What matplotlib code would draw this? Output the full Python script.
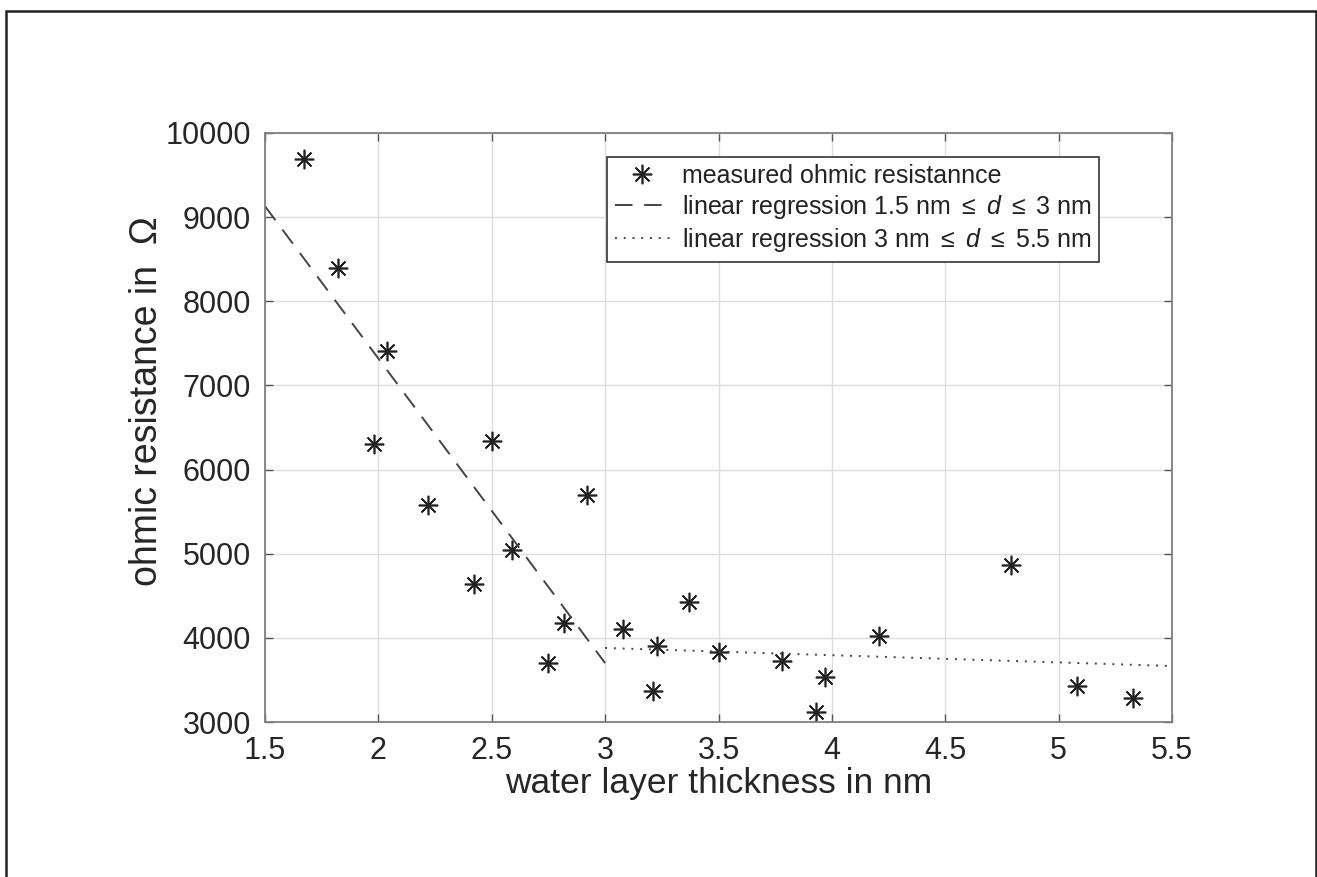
import matplotlib
matplotlib.use("Agg")
import matplotlib.pyplot as plt
from matplotlib.patches import Rectangle

plt.rcParams['font.family'] = ['Liberation Sans', 'DejaVu Sans']
plt.rcParams['mathtext.fontset'] = 'custom'
plt.rcParams['mathtext.rm'] = 'Liberation Sans'
plt.rcParams['mathtext.it'] = 'Liberation Sans:italic'

# measured points (water layer thickness in nm, resistance in ohm)
thickness = [1.67, 1.82, 2.04, 1.98, 2.50, 2.22, 2.92, 2.59, 2.42, 2.82, 3.08, 2.75,
             3.23, 3.21, 3.37, 3.50, 3.78, 3.97, 3.93, 4.21, 4.79, 5.08, 5.33]
resistance = [9690, 8390, 7410, 6300, 6340, 5580, 5700, 5040, 4640, 4180, 4100, 3700,
              3900, 3370, 4430, 3830, 3720, 3530, 3120, 4020, 4870, 3430, 3280]

# regression line endpoints
reg1_x = [1.5, 3.0]
reg1_y = [9130, 3700]
reg2_x = [3.0, 5.5]
reg2_y = [3880, 3665]

xticks = [1.5, 2, 2.5, 3, 3.5, 4, 4.5, 5, 5.5]
xticklabels = ['1.5', '2', '2.5', '3', '3.5', '4', '4.5', '5', '5.5']
yticks = [3000, 4000, 5000, 6000, 7000, 8000, 9000, 10000]

fig = plt.figure(figsize=(13.17, 8.77), dpi=100)
ax = fig.add_axes([265/1317, 1 - 722/877, (1172 - 265)/1317, (722 - 133)/877])

# outer frame
fig.patches.append(Rectangle((6/1317, -0.05), 1310/1317, 1.05 - 10.5/877,
                             transform=fig.transFigure, fill=False,
                             edgecolor='#222222', linewidth=1.8))

ax.plot(thickness, resistance, linestyle='none', marker=(8, 2, 0), markersize=14,
        markeredgewidth=1.2, color='#222222', label='measured ohmic resistannce')
ax.plot(reg1_x, reg1_y, linestyle=(0, (9, 6)), color='#444444', linewidth=1.4,
        label=r'linear regression 1.5 nm $\leq$ $d$ $\leq$ 3 nm')
ax.plot(reg2_x, reg2_y, linestyle=(0, (1, 3.5)), color='#444444', linewidth=1.4,
        label=r'linear regression 3 nm $\leq$ $d$ $\leq$ 5.5 nm')

ax.set_xlim(1.5, 5.5)
ax.set_ylim(3000, 10000)
ax.set_xticks(xticks)
ax.set_xticklabels(xticklabels)
ax.set_yticks(yticks)
ax.grid(True, color='#dddddd', linewidth=1)
ax.set_axisbelow(True)
ax.tick_params(direction='in', length=6, width=1, color='#555555',
               top=True, right=True, labelsize=22, labelcolor='#262626', pad=10)
for s in ax.spines.values():
    s.set_color('#808080')
    s.set_linewidth(1.3)

ax.set_xlabel('water layer thickness in nm', fontsize=25.5, color='#262626', labelpad=1)
ax.set_ylabel('ohmic resistance in  Ω', fontsize=27, color='#262626')
ax.yaxis.set_label_coords(-0.11, 0.545)

leg = ax.legend(loc='upper right', bbox_to_anchor=(0.92, 0.96), fontsize=18,
                fancybox=False, framealpha=1, edgecolor='#333333',
                handlelength=2.2, handletextpad=0.5, borderpad=0.3,
                labelspacing=0.2, borderaxespad=0)
leg.get_frame().set_linewidth(1.2)
for t in leg.get_texts():
    t.set_color('#222222')

fig.savefig('out.png', dpi=100)
